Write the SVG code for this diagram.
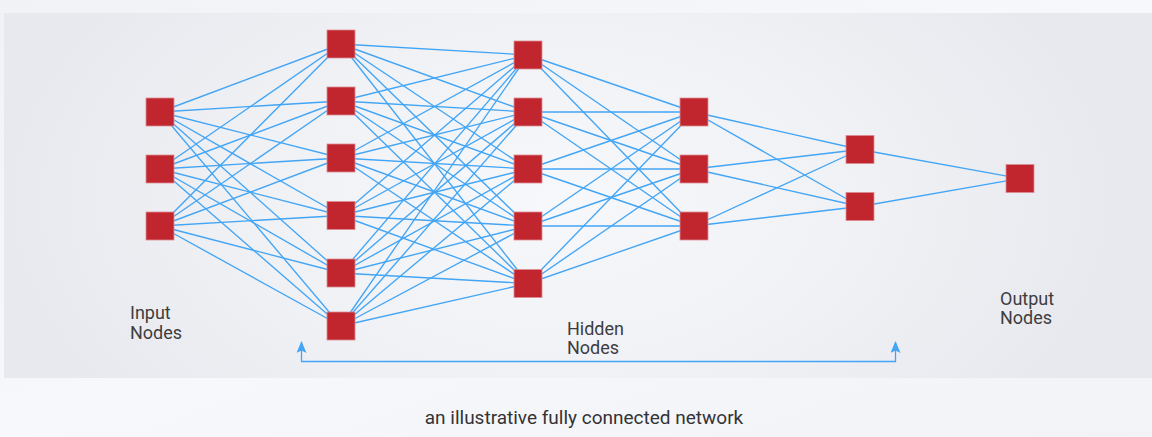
<svg xmlns="http://www.w3.org/2000/svg" width="1152" height="437" viewBox="0 0 1152 437">
  <defs>
    <linearGradient id="pageBg" x1="0" y1="0" x2="1" y2="1">
      <stop offset="0" stop-color="#f1f2f6"/>
      <stop offset="0.5" stop-color="#f7f8fb"/>
      <stop offset="1" stop-color="#f2f3f7"/>
    </linearGradient>
    <radialGradient id="panelBg" cx="560" cy="200" r="560" gradientUnits="userSpaceOnUse" gradientTransform="translate(560 200) scale(1 0.6) translate(-560 -200)">
      <stop offset="0" stop-color="#f7f8fb"/>
      <stop offset="0.55" stop-color="#f0f1f5"/>
      <stop offset="1" stop-color="#e8e9ee"/>
    </radialGradient>
    <marker id="arrowUp" viewBox="0 0 12 10" refX="11" refY="5" markerWidth="12" markerHeight="10" markerUnits="userSpaceOnUse" orient="auto-start-reverse">
      <path d="M0,0 L12,5 L0,10 L2.5,5 z" fill="#42a5f5"/>
    </marker>
    <style>
      .node rect { fill: #c1262e; stroke: #dc8c93; stroke-width: 0.8; }
      .links line { stroke: #42a5f5; stroke-width: 1.35; }
      .label { font-family: Roboto, "Liberation Sans", sans-serif; font-size: 18px; fill: #3d3d3f; }
      .caption { font-family: Roboto, "Liberation Sans", sans-serif; font-size: 19px; fill: #333336; }
      .bracket { fill: none; stroke: #42a5f5; stroke-width: 1.3; }
    </style>
  </defs>

  <!-- page and panel backgrounds -->
  <rect x="0" y="0" width="1152" height="437" fill="url(#pageBg)"/>
  <rect x="4" y="13" width="1148" height="365" fill="url(#panelBg)"/>

  <!-- connectors: every node links to every node of the next layer -->
  <g id="connectors" class="links">
    <!-- input layer to hidden layer 1 -->
    <line x1="160" y1="112" x2="341" y2="44"/>
    <line x1="160" y1="112" x2="341" y2="101"/>
    <line x1="160" y1="112" x2="341" y2="158"/>
    <line x1="160" y1="112" x2="341" y2="215.5"/>
    <line x1="160" y1="112" x2="341" y2="273"/>
    <line x1="160" y1="112" x2="341" y2="326"/>
    <line x1="160" y1="169" x2="341" y2="44"/>
    <line x1="160" y1="169" x2="341" y2="101"/>
    <line x1="160" y1="169" x2="341" y2="158"/>
    <line x1="160" y1="169" x2="341" y2="215.5"/>
    <line x1="160" y1="169" x2="341" y2="273"/>
    <line x1="160" y1="169" x2="341" y2="326"/>
    <line x1="160" y1="226" x2="341" y2="44"/>
    <line x1="160" y1="226" x2="341" y2="101"/>
    <line x1="160" y1="226" x2="341" y2="158"/>
    <line x1="160" y1="226" x2="341" y2="215.5"/>
    <line x1="160" y1="226" x2="341" y2="273"/>
    <line x1="160" y1="226" x2="341" y2="326"/>
    <!-- hidden layer 1 to hidden layer 2 -->
    <line x1="341" y1="44" x2="528" y2="55"/>
    <line x1="341" y1="44" x2="528" y2="112"/>
    <line x1="341" y1="44" x2="528" y2="169"/>
    <line x1="341" y1="44" x2="528" y2="226"/>
    <line x1="341" y1="44" x2="528" y2="283.5"/>
    <line x1="341" y1="101" x2="528" y2="55"/>
    <line x1="341" y1="101" x2="528" y2="112"/>
    <line x1="341" y1="101" x2="528" y2="169"/>
    <line x1="341" y1="101" x2="528" y2="226"/>
    <line x1="341" y1="101" x2="528" y2="283.5"/>
    <line x1="341" y1="158" x2="528" y2="55"/>
    <line x1="341" y1="158" x2="528" y2="112"/>
    <line x1="341" y1="158" x2="528" y2="169"/>
    <line x1="341" y1="158" x2="528" y2="226"/>
    <line x1="341" y1="158" x2="528" y2="283.5"/>
    <line x1="341" y1="215.5" x2="528" y2="55"/>
    <line x1="341" y1="215.5" x2="528" y2="112"/>
    <line x1="341" y1="215.5" x2="528" y2="169"/>
    <line x1="341" y1="215.5" x2="528" y2="226"/>
    <line x1="341" y1="215.5" x2="528" y2="283.5"/>
    <line x1="341" y1="273" x2="528" y2="55"/>
    <line x1="341" y1="273" x2="528" y2="112"/>
    <line x1="341" y1="273" x2="528" y2="169"/>
    <line x1="341" y1="273" x2="528" y2="226"/>
    <line x1="341" y1="273" x2="528" y2="283.5"/>
    <line x1="341" y1="326" x2="528" y2="55"/>
    <line x1="341" y1="326" x2="528" y2="112"/>
    <line x1="341" y1="326" x2="528" y2="169"/>
    <line x1="341" y1="326" x2="528" y2="226"/>
    <line x1="341" y1="326" x2="528" y2="283.5"/>
    <!-- hidden layer 2 to hidden layer 3 -->
    <line x1="528" y1="55" x2="694" y2="112"/>
    <line x1="528" y1="55" x2="694" y2="169"/>
    <line x1="528" y1="55" x2="694" y2="226"/>
    <line x1="528" y1="112" x2="694" y2="112"/>
    <line x1="528" y1="112" x2="694" y2="169"/>
    <line x1="528" y1="112" x2="694" y2="226"/>
    <line x1="528" y1="169" x2="694" y2="112"/>
    <line x1="528" y1="169" x2="694" y2="169"/>
    <line x1="528" y1="169" x2="694" y2="226"/>
    <line x1="528" y1="226" x2="694" y2="112"/>
    <line x1="528" y1="226" x2="694" y2="169"/>
    <line x1="528" y1="226" x2="694" y2="226"/>
    <line x1="528" y1="283.5" x2="694" y2="112"/>
    <line x1="528" y1="283.5" x2="694" y2="169"/>
    <line x1="528" y1="283.5" x2="694" y2="226"/>
    <!-- hidden layer 3 to hidden layer 4 -->
    <line x1="694" y1="112" x2="860" y2="149.5"/>
    <line x1="694" y1="112" x2="860" y2="206.5"/>
    <line x1="694" y1="169" x2="860" y2="149.5"/>
    <line x1="694" y1="169" x2="860" y2="206.5"/>
    <line x1="694" y1="226" x2="860" y2="149.5"/>
    <line x1="694" y1="226" x2="860" y2="206.5"/>
    <!-- hidden layer 4 to output -->
    <line x1="860" y1="149.5" x2="1020" y2="178.5"/>
    <line x1="860" y1="206.5" x2="1020" y2="178.5"/>
  </g>

  <!-- input layer -->
  <g id="input-1" class="node"><rect x="146" y="98" width="28" height="28"/></g>
  <g id="input-2" class="node"><rect x="146" y="155" width="28" height="28"/></g>
  <g id="input-3" class="node"><rect x="146" y="212" width="28" height="28"/></g>

  <!-- hidden layer 1 -->
  <g id="h1-1" class="node"><rect x="327" y="30" width="28" height="28"/></g>
  <g id="h1-2" class="node"><rect x="327" y="87" width="28" height="28"/></g>
  <g id="h1-3" class="node"><rect x="327" y="144" width="28" height="28"/></g>
  <g id="h1-4" class="node"><rect x="327" y="201.5" width="28" height="28"/></g>
  <g id="h1-5" class="node"><rect x="327" y="259" width="28" height="28"/></g>
  <g id="h1-6" class="node"><rect x="327" y="312" width="28" height="28"/></g>

  <!-- hidden layer 2 -->
  <g id="h2-1" class="node"><rect x="514" y="41" width="28" height="28"/></g>
  <g id="h2-2" class="node"><rect x="514" y="98" width="28" height="28"/></g>
  <g id="h2-3" class="node"><rect x="514" y="155" width="28" height="28"/></g>
  <g id="h2-4" class="node"><rect x="514" y="212" width="28" height="28"/></g>
  <g id="h2-5" class="node"><rect x="514" y="269.5" width="28" height="28"/></g>

  <!-- hidden layer 3 -->
  <g id="h3-1" class="node"><rect x="680" y="98" width="28" height="28"/></g>
  <g id="h3-2" class="node"><rect x="680" y="155" width="28" height="28"/></g>
  <g id="h3-3" class="node"><rect x="680" y="212" width="28" height="28"/></g>

  <!-- hidden layer 4 -->
  <g id="h4-1" class="node"><rect x="846" y="135.5" width="28" height="28"/></g>
  <g id="h4-2" class="node"><rect x="846" y="192.5" width="28" height="28"/></g>

  <!-- output layer -->
  <g id="output-1" class="node"><rect x="1006" y="164.5" width="28" height="28"/></g>

  <!-- bracket spanning the hidden layers -->
  <g id="hidden-span">
    <path class="bracket" d="M301.5,342 V361.5 H895.5 V342" marker-start="url(#arrowUp)" marker-end="url(#arrowUp)"/>
  </g>

  <!-- labels -->
  <g id="labels">
    <text class="label" x="130" y="319">Input</text>
    <text class="label" x="130" y="339">Nodes</text>
    <text class="label" x="567" y="335">Hidden</text>
    <text class="label" x="567" y="354">Nodes</text>
    <text class="label" x="1000" y="305">Output</text>
    <text class="label" x="1000" y="324">Nodes</text>
    <text class="caption" x="584" y="424" text-anchor="middle">an illustrative fully connected network</text>
  </g>
</svg>
